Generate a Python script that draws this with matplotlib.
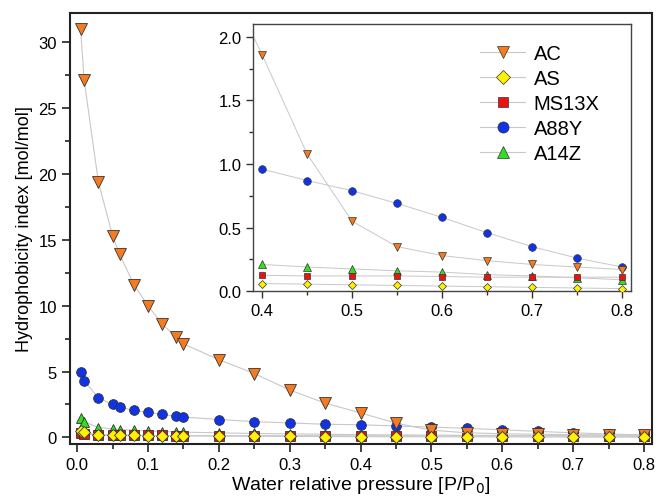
import matplotlib.pyplot as plt
from matplotlib.ticker import MultipleLocator

plt.rcParams["font.family"] = ["Liberation Sans", "DejaVu Sans"]

# main panel data
x_main = [0.005, 0.01, 0.03, 0.05, 0.06, 0.08, 0.10, 0.12, 0.14, 0.15,
          0.20, 0.25, 0.30, 0.35, 0.40, 0.45, 0.50, 0.55, 0.60, 0.65,
          0.70, 0.75, 0.80]
ac = [31.0, 27.1, 19.4, 15.3, 13.9, 11.6, 10.0, 8.6, 7.6, 7.1,
      5.9, 4.85, 3.6, 2.6, 1.86, 1.08, 0.55, 0.35, 0.28, 0.24,
      0.21, 0.19, 0.17]
as_ = [0.5, 0.4, 0.2, 0.17, 0.16, 0.15, 0.14, 0.13, 0.12, 0.12,
       0.10, 0.09, 0.08, 0.07, 0.06, 0.055, 0.05, 0.045, 0.04, 0.035,
       0.03, 0.025, 0.02]
ms13x = [0.3, 0.25, 0.2, 0.18, 0.17, 0.16, 0.15, 0.15, 0.14, 0.14,
         0.13, 0.13, 0.13, 0.13, 0.125, 0.12, 0.12, 0.12, 0.115, 0.11,
         0.11, 0.11, 0.11]
a88y = [5.0, 4.3, 3.0, 2.5, 2.3, 2.05, 1.9, 1.75, 1.6, 1.55,
        1.36, 1.2, 1.1, 1.0, 0.96, 0.87, 0.79, 0.69, 0.58, 0.46,
        0.35, 0.26, 0.19]
a14z = [1.5, 1.2, 0.75, 0.65, 0.6, 0.55, 0.5, 0.45, 0.42, 0.4,
        0.35, 0.3, 0.27, 0.24, 0.21, 0.19, 0.175, 0.16, 0.15, 0.13,
        0.12, 0.105, 0.09]

labels = ["AC", "AS", "MS13X", "A88Y", "A14Z"]
markers = ["v", "D", "s", "o", "^"]
colors = ["#F47B20", "#FFF200", "#EE1111", "#1033E8", "#33DD22"]
sizes = [8.5, 6.5, 6.5, 7, 7.5]
inset_sizes = [6, 4.5, 5, 5.5, 5.5]
series = [ac, as_, ms13x, a88y, a14z]
# draw order: blue at the back, yellow diamonds on top
order = [3, 4, 2, 0, 1]

LINE = "#C8C8C8"

fig = plt.figure(figsize=(6.59, 5.02), dpi=100)
ax = fig.add_axes([0.1062, 0.1135, 0.883, 0.8586])

for k, i in enumerate(order):
    ax.plot(x_main, series[i], color=LINE, lw=0.8, marker=markers[i],
            ms=sizes[i], mfc=colors[i], mec="#333333", mew=0.6, zorder=3 + k)

ax.set_xlim(-0.01, 0.811)
ax.set_ylim(-0.5, 32.2)
ax.xaxis.set_major_locator(MultipleLocator(0.1))
ax.xaxis.set_minor_locator(MultipleLocator(0.05))
ax.yaxis.set_major_locator(MultipleLocator(5))
ax.yaxis.set_minor_locator(MultipleLocator(2.5))
ax.tick_params(which="both", direction="out", top=False, right=False,
               labelsize=12, width=1.2, color="#222222")
ax.tick_params(which="major", length=6)
ax.tick_params(which="minor", length=3.5)
ax.xaxis.set_major_formatter(lambda v, p: f"{v:.1f}")
for s in ax.spines.values():
    s.set_linewidth(1.5)
    s.set_color("#222222")
ax.set_xlabel("Water relative pressure [P/P$_0$]", fontsize=14, labelpad=1)
ax.set_ylabel("Hydrophobicity index [mol/mol]", fontsize=13, labelpad=4)

# inset
ins = fig.add_axes([0.384, 0.418, 0.5736, 0.532])
for k, i in enumerate(order):
    ins.plot(x_main[14:], series[i][14:], color=LINE, lw=0.7, marker=markers[i],
             ms=inset_sizes[i], mfc=colors[i], mec="#333333", mew=0.5,
             zorder=3 + k)
# line from previous point enters the inset at the top left
ins.plot(x_main[13:15], ac[13:15], color=LINE, lw=0.7, zorder=2)

ins.set_xlim(0.39, 0.81)
ins.set_ylim(0.0, 2.1)
ins.xaxis.set_major_locator(MultipleLocator(0.1))
ins.xaxis.set_minor_locator(MultipleLocator(0.05))
ins.yaxis.set_major_locator(MultipleLocator(0.5))
ins.yaxis.set_minor_locator(MultipleLocator(0.25))
ins.tick_params(which="both", direction="out", top=False, right=False,
                labelsize=12, width=1.0, color="#333333")
ins.tick_params(which="major", length=5)
ins.tick_params(which="minor", length=3)
for s in ins.spines.values():
    s.set_linewidth(1.0)
    s.set_color("#444444")

handles = []
for i in range(5):
    h, = ins.plot([], [], color=LINE, lw=0.8, marker=markers[i], ms=inset_sizes[i] + 2.5,
                  mfc=colors[i], mec="#333333", mew=0.5, label=labels[i])
    handles.append(h)
ins.legend(handles=handles, loc="upper right", frameon=False, fontsize=14.5,
           handlelength=2.2, handletextpad=0.45, labelspacing=0.3,
           bbox_to_anchor=(0.965, 0.995))

fig.savefig("out.png", dpi=100)
